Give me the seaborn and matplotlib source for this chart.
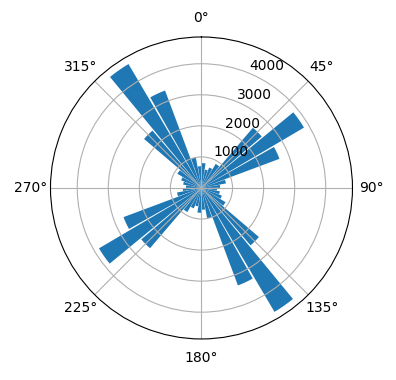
import numpy as np
import matplotlib
matplotlib.use("Agg")
import matplotlib.pyplot as plt
import seaborn as sns

# bin centres (degrees) for one half; the rose is mirrored onto the opposite half
bin_centers_half = [5, 15, 25, 35, 45, 55, 65, 75, 85, 95, 105, 115, 125, 135, 145, 155, 165, 175]
counts_half = [800, 600, 700, 900, 2550, 3830, 2680, 800, 600, 500, 600, 700, 900, 2430, 4630, 3350, 1000, 700]
radial_ticks = [1000, 2000, 3000, 4000]

bin_centers = bin_centers_half + [c + 180 for c in bin_centers_half]
counts = counts_half + counts_half

color = sns.color_palette("tab10")[0]

fig = plt.figure(figsize=(3.96, 3.80), dpi=100)
ax = fig.add_axes([0.1275, 0.108, 0.7626, 0.7947], projection="polar")
ax.set_theta_zero_location("N")
ax.set_theta_direction(-1)
ax.bar(np.deg2rad(bin_centers), counts, width=np.deg2rad(9), bottom=0.0, color=color)
ax.set_rticks(radial_ticks)
ax.grid(True)
fig.savefig("out.png", dpi=100)
